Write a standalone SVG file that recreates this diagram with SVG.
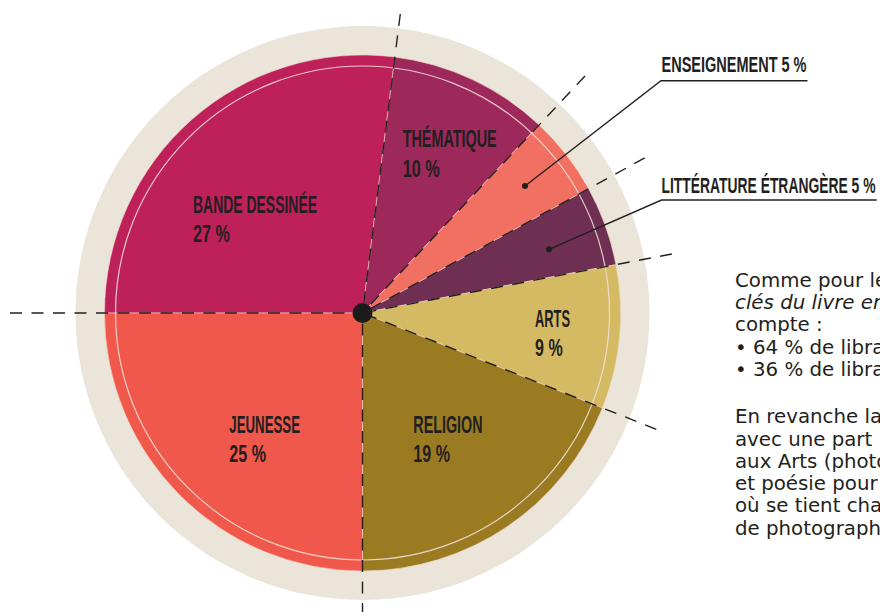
<svg xmlns="http://www.w3.org/2000/svg" width="880" height="612" viewBox="0 0 880 612">
<style>
.lbl{font-family:"Liberation Sans",Arial,sans-serif;font-weight:bold;font-size:23.5px;fill:#231f20}
.co{font-size:22.5px}
.body{font-family:"DejaVu Sans","Liberation Sans",sans-serif;font-size:19.8px;fill:#231f20}
.it{font-style:italic}
.sl{stroke:#f6d6cc;stroke-opacity:0.55;stroke-width:1}
.dash{fill:none;stroke:#231f20;stroke-width:1.4;stroke-dasharray:12 9.5}
.lead{fill:none;stroke:#231f20;stroke-width:1.4}
</style>
<rect width="880" height="612" fill="#ffffff"/>
<g id="ring">
<circle cx="362.5" cy="313" r="287" fill="#eae5d8"/>
</g>
<g id="slice-bd">
<path class="sl" d="M362.5 313 L104.5 313 A258 258 0 0 1 394.84 57.04 Z" fill="#be215a"/>
<text class="lbl" x="193" y="212.5" textLength="124" lengthAdjust="spacingAndGlyphs">BANDE DESSINÉE</text>
<text class="lbl" x="193" y="241.7" textLength="37" lengthAdjust="spacingAndGlyphs">27 %</text>
</g>
<g id="slice-thematique">
<path class="sl" d="M362.5 313 L394.84 57.04 A258 258 0 0 1 539.11 124.93 Z" fill="#9d285a"/>
<text class="lbl" x="402.7" y="147.3" textLength="94" lengthAdjust="spacingAndGlyphs">THÉMATIQUE</text>
<text class="lbl" x="402.7" y="176.5" textLength="37" lengthAdjust="spacingAndGlyphs">10 %</text>
</g>
<g id="slice-enseignement">
<path class="sl" d="M362.5 313 L539.11 124.93 A258 258 0 0 1 588.59 188.71 Z" fill="#f27062"/>
</g>
<g id="slice-litterature">
<path class="sl" d="M362.5 313 L588.59 188.71 A258 258 0 0 1 615.93 264.66 Z" fill="#6f2f52"/>
</g>
<g id="slice-arts">
<path class="sl" d="M362.5 313 L615.93 264.66 A258 258 0 0 1 602.38 407.97 Z" fill="#d4ba62"/>
<text class="lbl" x="535" y="326.7" textLength="35" lengthAdjust="spacingAndGlyphs">ARTS</text>
<text class="lbl" x="535" y="356" textLength="27.7" lengthAdjust="spacingAndGlyphs">9 %</text>
</g>
<g id="slice-religion">
<path class="sl" d="M362.5 313 L602.38 407.97 A258 258 0 0 1 362.5 571 Z" fill="#9a7b22"/>
<text class="lbl" x="413.3" y="432.7" textLength="69.3" lengthAdjust="spacingAndGlyphs">RELIGION</text>
<text class="lbl" x="413.3" y="461.7" textLength="36.7" lengthAdjust="spacingAndGlyphs">19 %</text>
</g>
<g id="slice-jeunesse">
<path class="sl" d="M362.5 313 L362.5 571 A258 258 0 0 1 104.5 313 Z" fill="#f0584b"/>
<text class="lbl" x="229.3" y="432.7" textLength="70.7" lengthAdjust="spacingAndGlyphs">JEUNESSE</text>
<text class="lbl" x="229.3" y="461.7" textLength="36.7" lengthAdjust="spacingAndGlyphs">25 %</text>
</g>
<g id="inner-ring">
<circle cx="362.5" cy="313" r="247" fill="none" stroke="#f3e3df" stroke-width="1.2" stroke-opacity="0.85"/>
</g>
<g id="connectors">
<path class="dash" d="M400.3 14 L362.5 313"/>
<path class="dash" d="M585 76.1 L362.5 313"/>
<path class="dash" d="M644.7 157.9 L362.5 313"/>
<path class="dash" d="M671.9 254 L362.5 313"/>
<path class="dash" d="M656.3 429.3 L362.5 313"/>
<path class="dash" d="M362.5 615 L362.5 313"/>
<path class="dash" d="M10 313 L362.5 313"/>
<path class="lead" d="M525 186 L661 80.7 L807.5 80.7"/>
<circle cx="525" cy="186" r="3" fill="#231f20"/>
<path class="lead" d="M549 249.3 L661.5 200 L876.7 200"/>
<circle cx="549" cy="249.3" r="3" fill="#231f20"/>
</g>
<g id="center">
<circle cx="362.5" cy="313" r="10" fill="#1c1a1a"/>
</g>
<g id="callout-enseignement">
<text class="lbl co" x="661.5" y="72.3" textLength="145" lengthAdjust="spacingAndGlyphs">ENSEIGNEMENT 5 %</text>
</g>
<g id="callout-litterature">
<text class="lbl co" x="661.5" y="192.7" textLength="214" lengthAdjust="spacingAndGlyphs">LITTÉRATURE ÉTRANGÈRE 5 %</text>
</g>
<g id="body-text">
<text class="body" x="735" y="286.6">Comme pour le</text>
<text class="body it" x="735" y="308.9">clés du livre en</text>
<text class="body" x="735" y="331.2">compte :</text>
<text class="body" x="735" y="353.5">• 64 % de libra</text>
<text class="body" x="735" y="375.8">• 36 % de libra</text>
<text class="body" x="735" y="423.2">En revanche la</text>
<text class="body" x="735" y="445.5">avec une part</text>
<text class="body" x="735" y="467.8">aux Arts (photo</text>
<text class="body" x="735" y="490.1">et poésie pour</text>
<text class="body" x="735" y="512.4">où se tient cha</text>
<text class="body" x="735" y="534.7">de photograph</text>
</g>
</svg>
